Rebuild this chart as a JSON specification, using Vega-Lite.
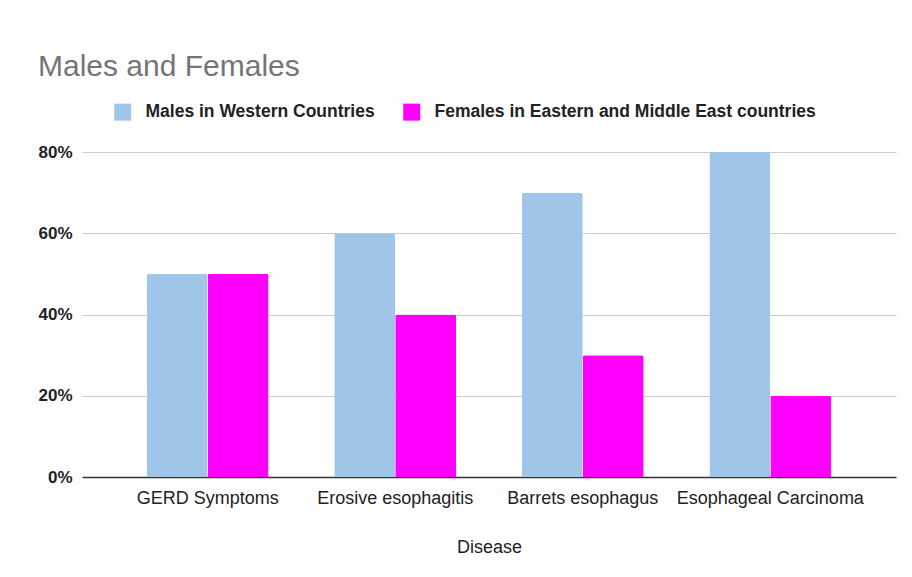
{
  "$schema": "https://vega.github.io/schema/vega-lite/v6.json",
  "width": 814,
  "height": 325,
  "padding": {"left": 37, "top": 52, "right": 15, "bottom": 10},
  "background": "white",
  "title": {
    "text": "Males and Females",
    "anchor": "start",
    "frame": "bounds",
    "font": "Liberation Sans",
    "fontSize": 30,
    "fontWeight": "normal",
    "color": "#757575",
    "offset": 21
  },
  "data": {
    "values": [
      {"Disease": "GERD Symptoms", "Group": "Males in Western Countries", "Value": 0.5},
      {"Disease": "GERD Symptoms", "Group": "Females in Eastern and Middle East countries", "Value": 0.5},
      {"Disease": "Erosive esophagitis", "Group": "Males in Western Countries", "Value": 0.6},
      {"Disease": "Erosive esophagitis", "Group": "Females in Eastern and Middle East countries", "Value": 0.4},
      {"Disease": "Barrets esophagus", "Group": "Males in Western Countries", "Value": 0.7},
      {"Disease": "Barrets esophagus", "Group": "Females in Eastern and Middle East countries", "Value": 0.3},
      {"Disease": "Esophageal Carcinoma", "Group": "Males in Western Countries", "Value": 0.8},
      {"Disease": "Esophageal Carcinoma", "Group": "Females in Eastern and Middle East countries", "Value": 0.2}
    ]
  },
  "mark": {"type": "bar", "cornerRadiusTopLeft": 2, "cornerRadiusTopRight": 2},
  "encoding": {
    "x": {
      "field": "Disease",
      "type": "nominal",
      "sort": ["GERD Symptoms", "Erosive esophagitis", "Barrets esophagus", "Esophageal Carcinoma"],
      "scale": {"paddingInner": 0.35, "paddingOuter": 0.345},
      "axis": {
        "title": "Disease",
        "labelAngle": 0,
        "ticks": false,
        "domainColor": "#333333",
        "domainWidth": 1.5,
        "labelFont": "Liberation Sans",
        "labelFontSize": 18,
        "labelColor": "#222222",
        "labelPadding": 12,
        "labelLimit": 0,
        "titleFont": "Liberation Sans",
        "titleFontSize": 18,
        "titleFontWeight": "normal",
        "titleColor": "#222222",
        "titlePadding": 31
      }
    },
    "xOffset": {
      "field": "Group",
      "type": "nominal",
      "sort": ["Males in Western Countries", "Females in Eastern and Middle East countries"],
      "scale": {"paddingInner": 0, "paddingOuter": 0}
    },
    "y": {
      "field": "Value",
      "type": "quantitative",
      "scale": {"domain": [0, 0.8], "nice": false},
      "axis": {
        "title": null,
        "format": ".0%",
        "values": [0, 0.2, 0.4, 0.6, 0.8],
        "domain": false,
        "ticks": false,
        "gridColor": "#cccccc",
        "labelFont": "Liberation Sans",
        "labelFontSize": 17,
        "labelFontWeight": "bold",
        "labelColor": "#222222",
        "labelPadding": 10
      }
    },
    "color": {
      "field": "Group",
      "type": "nominal",
      "sort": ["Males in Western Countries", "Females in Eastern and Middle East countries"],
      "scale": {"domain": ["Males in Western Countries", "Females in Eastern and Middle East countries"], "range": ["#9fc5e8", "#ff00ff"]},
      "legend": {
        "title": null,
        "orient": "none",
        "direction": "horizontal",
        "legendX": 32,
        "legendY": -49,
        "symbolType": "square",
        "symbolSize": 289,
        "symbolStrokeWidth": 0,
        "symbolOpacity": 1,
        "labelFont": "Liberation Sans",
        "labelFontSize": 17.5,
        "labelFontWeight": "bold",
        "labelColor": "#222222",
        "labelOffset": 14,
        "labelLimit": 0,
        "columnPadding": 28
      }
    }
  },
  "config": {"view": {"stroke": null}}
}
